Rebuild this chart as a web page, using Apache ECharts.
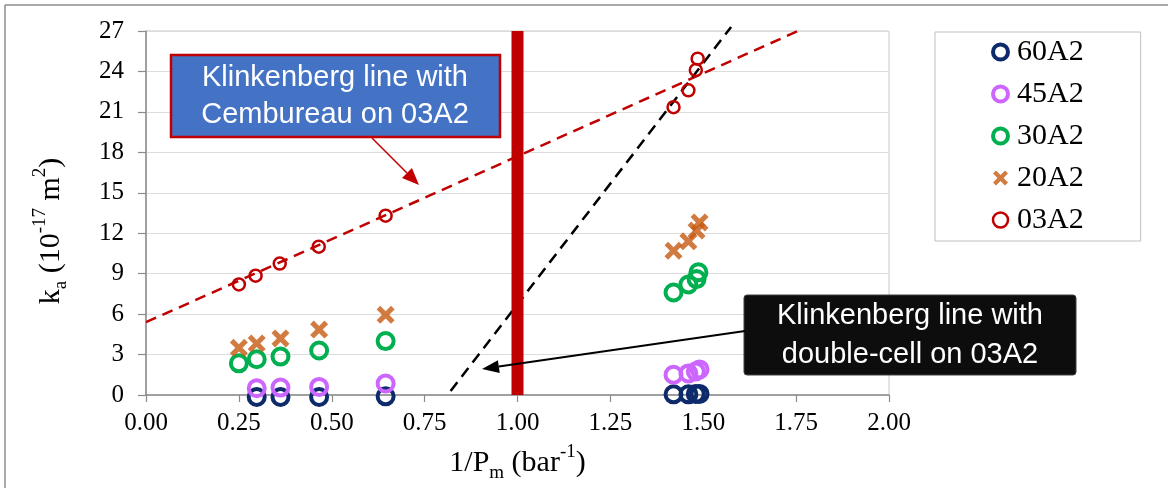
<!DOCTYPE html>
<html>
<head>
<meta charset="utf-8">
<script src="https://cdn.jsdelivr.net/npm/echarts@6/dist/echarts.min.js"></script>
<style>
html,body{margin:0;padding:0;background:#fff;}
#c{width:1168px;height:488px;}
</style>
</head>
<body>
<div id="c"></div>
<script>
// ---- data ----
const seriesNames = ['60A2', '45A2', '30A2', '20A2', '03A2'];
const x60 = [0.298, 0.362, 0.466, 0.645, 1.42, 1.46, 1.48, 1.49];
const y60 = [-0.15, -0.15, -0.15, -0.1, 0.05, 0.05, 0.07, 0.08];
const x45 = [0.298, 0.362, 0.466, 0.645, 1.42, 1.46, 1.48, 1.49];
const y45 = [0.5, 0.55, 0.6, 0.85, 1.5, 1.6, 1.75, 1.9];
const x30 = [0.25, 0.298, 0.362, 0.466, 0.645, 1.42, 1.46, 1.482, 1.487];
const y30 = [2.35, 2.65, 2.85, 3.3, 4.0, 7.6, 8.2, 8.6, 9.1];
const x20 = [0.25, 0.298, 0.362, 0.466, 0.645, 1.42, 1.46, 1.482, 1.49];
const y20 = [3.5, 3.82, 4.2, 4.85, 5.95, 10.7, 11.4, 12.2, 12.8];
const x03 = [0.25, 0.295, 0.36, 0.465, 0.645, 1.42, 1.46, 1.48, 1.485];
const y03 = [8.2, 8.85, 9.75, 11.0, 13.3, 21.35, 22.6, 24.1, 24.95];
// Klinkenberg fit lines and the 1.00 marker bar
const cemLineX = [0, 1.755];
const cemLineY = [5.4, 27];
const dcLineX = [0.82, 1.575];
const dcLineY = [0.3, 27.3];
const barX = [1.0, 1.0];
const barY = [0, 27];
// axis ticks
const xTicks = [0, 0.25, 0.5, 0.75, 1.0, 1.25, 1.5, 1.75, 2.0];
const yTicks = [0, 3, 6, 9, 12, 15, 18, 21, 24, 27];
const annot1 = 'Klinkenberg line with\nCembureau on 03A2';
const annot2 = 'Klinkenberg line with\ndouble-cell on 03A2';

const zip = (xs, ys) => xs.map((x, i) => [x, ys[i]]);
const SERIF = 'Liberation Serif';
const SANS = 'Liberation Sans';
const xPath = 'path://M0,20L20,0L50,30L80,0L100,20L70,50L100,80L80,100L50,70L20,100L0,80L30,50Z';

function ring(name, xs, ys, color, size, bw) {
  return {
    name: name, type: 'scatter', clip: false,
    data: zip(xs, ys), symbol: 'circle', symbolSize: size,
    itemStyle: { color: 'rgba(255,255,255,0)', borderColor: color, borderWidth: bw, opacity: 1 },
    emphasis: { disabled: true }, z: 5
  };
}
function arrow(x0, y0, x1, y1, color, width, hl, hw) {
  const a = Math.atan2(y1 - y0, x1 - x0);
  const bx = x1 - hl * Math.cos(a), by = y1 - hl * Math.sin(a);
  const px = -Math.sin(a) * hw / 2, py = Math.cos(a) * hw / 2;
  return [
    { type: 'line', shape: { x1: x0, y1: y0, x2: bx, y2: by }, style: { stroke: color, lineWidth: width }, z: 20 },
    { type: 'polygon', shape: { points: [[x1, y1], [bx + px, by + py], [bx - px, by - py]] }, style: { fill: color }, z: 20 }
  ];
}
const richSS = {
  sub: { fontFamily: SERIF, fontSize: 19, color: '#000', verticalAlign: 'bottom', lineHeight: 40 },
  sup: { fontFamily: SERIF, fontSize: 19, color: '#000', verticalAlign: 'top', lineHeight: 40 }
};

const chart = echarts.init(document.getElementById('c'));
const option = {
  animation: false,
  backgroundColor: '#fff',
  grid: { left: 146, right: 279, top: 31, bottom: 89, show: true, borderColor: '#C8C8C8', borderWidth: 1 },
  xAxis: {
    type: 'value', min: xTicks[0], max: xTicks[xTicks.length - 1], interval: xTicks[1] - xTicks[0],
    axisLine: { onZero: false, lineStyle: { color: '#8A8A8A', width: 1.5 } },
    axisTick: { show: true, length: 7, lineStyle: { color: '#8A8A8A', width: 1.2 } },
    axisLabel: { formatter: v => v.toFixed(2), fontFamily: SERIF, fontSize: 25, color: '#000', margin: 16 },
    splitLine: { show: false },
    name: '1/P{sub|m} (bar{sup|-1})', nameLocation: 'middle', nameGap: 48,
    nameTextStyle: { fontFamily: SERIF, fontSize: 30, color: '#000', lineHeight: 40, rich: richSS }
  },
  yAxis: {
    type: 'value', min: yTicks[0], max: yTicks[yTicks.length - 1], interval: yTicks[1] - yTicks[0],
    axisLine: { show: true, lineStyle: { color: '#8A8A8A', width: 1.5 } },
    axisTick: { show: true, length: 8, lineStyle: { color: '#8A8A8A', width: 1.2 } },
    axisLabel: { fontFamily: SERIF, fontSize: 25, color: '#000', margin: 22 },
    splitLine: { show: true, lineStyle: { color: '#DCDCDC', width: 1 } }
  },
  legend: {
    data: [
      { name: seriesNames[0], itemStyle: { borderWidth: 4 } },
      { name: seriesNames[1], itemStyle: { borderWidth: 4 } },
      { name: seriesNames[2], itemStyle: { borderWidth: 4 } },
      { name: seriesNames[3] },
      { name: seriesNames[4], itemStyle: { borderWidth: 2.5 } }
    ],
    orient: 'vertical', left: 935, top: 32,
    padding: [5, 57, 6, 56], itemWidth: 15, itemHeight: 15, itemGap: 12,
    borderColor: '#BFBFBF', borderWidth: 1, backgroundColor: '#fff',
    textStyle: { fontFamily: SERIF, fontSize: 30, color: '#000', lineHeight: 30, padding: [0, 0, 0, 4] }
  },
  series: [
    { name: 'cem', type: 'line', data: zip(cemLineX, cemLineY), showSymbol: false, clip: false, silent: true,
      lineStyle: { color: '#C00000', width: 2.5, type: [11, 7] }, z: 2 },
    { name: 'dc', type: 'line', data: zip(dcLineX, dcLineY), showSymbol: false, clip: false, silent: true,
      lineStyle: { color: '#000', width: 2.5, type: [11, 7] }, z: 2 },
    { name: 'bar', type: 'line', data: zip(barX, barY), showSymbol: false, silent: true,
      lineStyle: { color: '#C00000', width: 12, cap: 'butt' }, z: 3 },
    ring('60A2', x60, y60, '#0D2A6B', 16, 4),
    ring('45A2', x45, y45, '#CC66FF', 16, 4),
    ring('30A2', x30, y30, '#00B050', 16, 4),
    { name: '20A2', type: 'scatter', data: zip(x20, y20), symbol: xPath, symbolSize: 18, clip: false,
      itemStyle: { color: '#C55A11' }, emphasis: { disabled: true }, z: 5 },
    ring('03A2', x03, y03, '#C00000', 12, 2.5)
  ],
  graphic: [
    { type: 'line', shape: { x1: 5, y1: 5, x2: 1168, y2: 5 }, style: { stroke: '#8C8C8C', lineWidth: 1.5 } },
    { type: 'line', shape: { x1: 5, y1: 5, x2: 5, y2: 488 }, style: { stroke: '#8C8C8C', lineWidth: 1.5 } },
    { type: 'text', x: 51, y: 231, rotation: Math.PI / 2,
      style: { text: 'k{sub|a} (10{sup|-17} m{sup|2})', fontFamily: SERIF, fontSize: 30, fill: '#000',
               lineHeight: 40, align: 'center', verticalAlign: 'middle', rich: richSS } },
    { type: 'rect', shape: { x: 171, y: 55, width: 329, height: 82 },
      style: { fill: '#4472C4', stroke: '#C00000', lineWidth: 2.5 }, z: 20 },
    { type: 'text', x: 335, y: 96, z: 21,
      style: { text: annot1, fontFamily: SANS, fontSize: 29, fill: '#fff', lineHeight: 37, align: 'center', verticalAlign: 'middle' } },
    { type: 'rect', shape: { x: 744, y: 295, width: 332, height: 80, r: 3 },
      style: { fill: '#0D0D0D', stroke: '#404040', lineWidth: 1 }, z: 20 },
    { type: 'text', x: 910, y: 335, z: 21,
      style: { text: annot2, fontFamily: SANS, fontSize: 29, fill: '#fff', lineHeight: 39, align: 'center', verticalAlign: 'middle' } }
  ].concat(arrow(372, 138, 419, 185, '#C00000', 1.5, 17, 14))
   .concat(arrow(745, 331, 482, 369, '#000', 2, 17, 13))
};
chart.setOption(option);
</script>
</body>
</html>
